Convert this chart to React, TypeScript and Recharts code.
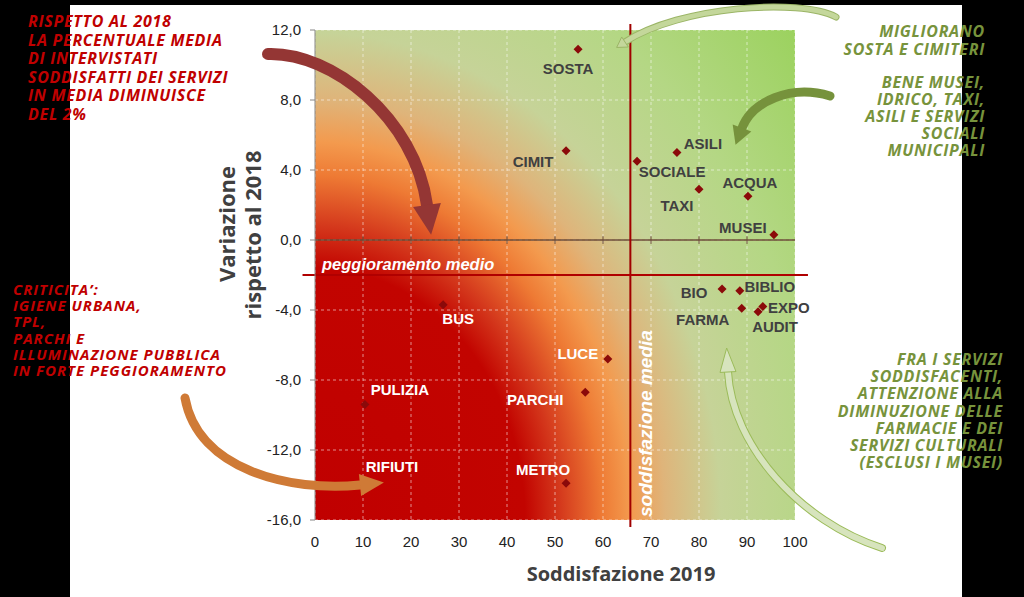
import { ScatterChart, Scatter, XAxis, YAxis, CartesianGrid, ReferenceLine } from 'recharts'

// services, 2019 satisfaction (%) and change vs 2018 (points)
const services = ['SOSTA', 'CIMIT', 'SOCIALE', 'ASILI', 'TAXI', 'ACQUA', 'MUSEI', 'BIO', 'BIBLIO', 'FARMA', 'AUDIT', 'EXPO', 'BUS', 'LUCE', 'PARCHI', 'PULIZIA', 'METRO']
const satisfaction2019 = [54.8, 52.3, 67.1, 75.4, 80.0, 90.2, 95.6, 84.8, 88.5, 88.9, 92.3, 93.3, 26.7, 61.0, 56.3, 10.4, 52.3]
const change2018 = [10.9, 5.1, 4.5, 5.0, 2.9, 2.5, 0.3, -2.8, -2.9, -3.9, -4.1, -3.8, -3.7, -6.8, -8.7, -9.4, -13.9]

const xTicks = [0, 10, 20, 30, 40, 50, 60, 70, 80, 90, 100]
const yTicks = [-16, -12, -8, -4, 0, 4, 8, 12]
const avgSatisfaction = 65.7
const avgChange = -2.0

const noteTop = ['RISPETTO AL 2018', 'LA PERCENTUALE MEDIA', 'DI INTERVISTATI', 'SODDISFATTI DEI SERVIZI', 'IN MEDIA DIMINUISCE', 'DEL 2%']
const noteLeft = ['CRITICITA\u2019:', 'IGIENE URBANA,', 'TPL,', 'PARCHI E', 'ILLUMINAZIONE PUBBLICA', 'IN FORTE PEGGIORAMENTO']
const noteGreen1 = ['MIGLIORANO', 'SOSTA E CIMITERI']
const noteGreen2 = ['BENE MUSEI,', 'IDRICO, TAXI,', 'ASILI E SERVIZI', 'SOCIALI', 'MUNICIPALI']
const noteGreen3 = ['FRA I SERVIZI', 'SODDISFACENTI,', 'ATTENZIONE ALLA', 'DIMINUZIONE DELLE', 'FARMACIE E DEI', 'SERVIZI CULTURALI', '(ESCLUSI I MUSEI)']

const data = services.map((name, i) => ({ name, x: satisfaction2019[i], y: change2018[i] }))

// label placement relative to the marker (px)
const labelOffset: Record<string, [number, number]> = {
  SOSTA: [-10, 19], CIMIT: [-33, 11], SOCIALE: [35, 10], ASILI: [26, -9], TAXI: [-22, 16],
  ACQUA: [2, -14], MUSEI: [-31, -7], BIO: [-28, 3], BIBLIO: [30, -4], FARMA: [-39, 11],
  EXPO: [26, 1], AUDIT: [17, 15], BUS: [15, 14], LUCE: [-30, -6], PARCHI: [-50, 7],
  PULIZIA: [35, -15], METRO: [-23, -14],
}
const whiteLabels = ['BUS', 'LUCE', 'PARCHI', 'PULIZIA', 'METRO']

const fmt = (v: number) => v.toFixed(1).replace('.', ',')

const PointShape = (props: any) => {
  const { cx, cy, payload } = props
  const off = labelOffset[payload.name] || [0, -12]
  const r = 4.5
  return (
    <g>
      <polygon points={`${cx},${cy - r} ${cx + r},${cy} ${cx},${cy + r} ${cx - r},${cy}`} fill="#8b0a0a" />
      <text
        x={cx + off[0]}
        y={cy + off[1]}
        textAnchor="middle"
        dominantBaseline="central"
        fontFamily="'Liberation Sans', Arial, sans-serif"
        fontWeight="bold"
        fontSize={15}
        fill={whiteLabels.includes(payload.name) ? '#ffffff' : '#404040'}
      >
        {payload.name}
      </text>
    </g>
  )
}

function Arrow({ pts, w, hl, hw, color, outline }: { pts: number[][]; w: number; hl: number; hw: number; color: string; outline?: string }) {
  const [p0, p1, p2, p3] = pts
  let dx = p3[0] - p2[0]
  let dy = p3[1] - p2[1]
  const len = Math.hypot(dx, dy)
  dx /= len
  dy /= len
  const nx = -dy
  const ny = dx
  const tip = [p3[0] + dx * hl, p3[1] + dy * hl]
  const head = `${p3[0] + (nx * hw) / 2},${p3[1] + (ny * hw) / 2} ${tip[0]},${tip[1]} ${p3[0] - (nx * hw) / 2},${p3[1] - (ny * hw) / 2}`
  const d = `M${p0} C${p1} ${p2} ${p3}`
  return (
    <g>
      {outline && <path d={d} fill="none" stroke={outline} strokeWidth={w + 2} strokeLinecap="round" />}
      <path d={d} fill="none" stroke={color} strokeWidth={w} strokeLinecap="round" />
      <polygon points={head} fill={color} stroke={outline || 'none'} strokeWidth={1} />
    </g>
  )
}

const noteFont = "'Open Sans', sans-serif"

function NoteBlock({ lines, x, y, lh, color, anchor, size = 16, spacing = 0.5 }: { lines: string[]; x: number; y: number; lh: number; color: string; anchor: 'start' | 'end'; size?: number; spacing?: number }) {
  return (
    <text fontFamily={noteFont} fontWeight="bold" fontStyle="italic" fontSize={size} letterSpacing={spacing} fill={color} textAnchor={anchor}>
      {lines.map((l, i) => (
        <tspan key={i} x={x} y={y + i * lh}>
          {l}
        </tspan>
      ))}
    </text>
  )
}

export default function App() {
  return (
    <div style={{ position: 'fixed', left: 0, top: 0, width: 1024, height: 597, background: '#ffffff', overflow: 'hidden' }}>
      <div style={{ position: 'absolute', left: 0, top: 0, width: 1024, height: 5, background: '#000' }} />
      <div style={{ position: 'absolute', left: 0, top: 0, width: 70, height: 597, background: '#000' }} />
      <div style={{ position: 'absolute', left: 962, top: 0, width: 62, height: 597, background: '#000' }} />

      <div style={{ position: 'absolute', left: 0, top: 0 }}>
        <ScatterChart width={1024} height={597} margin={{ top: 30, right: 229, bottom: 47, left: 255 }}>
          <defs>
            <radialGradient
              id="bgGrad"
              gradientUnits="userSpaceOnUse"
              cx={315}
              cy={520}
              r={700}
              gradientTransform="translate(315 520) scale(1 1.2) translate(-315 -520)"
            >
              <stop offset="0" stopColor="#c00000" />
              <stop offset="0.30" stopColor="#c20400" />
              <stop offset="0.35" stopColor="#d4381c" />
              <stop offset="0.41" stopColor="#ee7a34" />
              <stop offset="0.45" stopColor="#f39a4e" />
              <stop offset="0.50" stopColor="#dfb47a" />
              <stop offset="0.58" stopColor="#c6d398" />
              <stop offset="0.72" stopColor="#b4d784" />
              <stop offset="0.97" stopColor="#92d050" />
            </radialGradient>
          </defs>
          <CartesianGrid fill="url(#bgGrad)" fillOpacity={1} stroke="#ffffff" strokeOpacity={0.55} strokeDasharray="3 3" />
          <XAxis
            type="number"
            dataKey="x"
            domain={[0, 100]}
            ticks={xTicks}
            axisLine={false}
            tickLine={false}
            tickMargin={10}
            height={30}
            tick={{ fontFamily: "'Liberation Sans', Arial", fontSize: 15, fill: '#222' }}
          />
          <YAxis
            type="number"
            dataKey="y"
            domain={[-16, 12]}
            ticks={yTicks}
            tickFormatter={fmt}
            width={60}
            axisLine={{ stroke: '#868686' }}
            tickLine={{ stroke: '#868686' }}
            tickSize={5}
            tickMargin={9}
            tick={{ fontFamily: "'Liberation Sans', Arial", fontSize: 15, fill: '#222' }}
          />
          <ReferenceLine y={0} stroke="#6b4a36" strokeWidth={1.3} />
          {xTicks.slice(1, -1).map((t) => (
            <ReferenceLine key={t} segment={[{ x: t, y: 0.22 }, { x: t, y: -0.22 }]} stroke="#6b4a36" strokeWidth={1} />
          ))}
          <ReferenceLine
            segment={[{ x: avgSatisfaction, y: 12.35 }, { x: avgSatisfaction, y: -16.4 }]}
            stroke="#a00000"
            strokeWidth={2}
            ifOverflow="visible"
          />
          <ReferenceLine
            segment={[{ x: -2.6, y: avgChange }, { x: 102.7, y: avgChange }]}
            stroke="#b00000"
            strokeWidth={2}
            ifOverflow="visible"
          />
          <Scatter data={data} isAnimationActive={false} shape={PointShape} />
        </ScatterChart>
      </div>

      <svg width={1024} height={597} style={{ position: 'absolute', left: 0, top: 0, pointerEvents: 'none' }}>
        {/* in-plot notes */}
        <text x={322} y={270} fontFamily="'Liberation Sans', Arial" fontWeight="bold" fontStyle="italic" fontSize={16.5} fill="#ffffff">
          peggioramento  medio
        </text>
        <text
          x={652}
          y={517}
          transform="rotate(-90 652 517)"
          fontFamily="'Liberation Sans', Arial"
          fontWeight="bold"
          fontStyle="italic"
          fontSize={19}
          fill="#ffffff"
        >
          soddisfazione media
        </text>
        <text x={392} y={466} textAnchor="middle" dominantBaseline="central" fontFamily="'Liberation Sans', Arial" fontWeight="bold" fontSize={15} fill="#ffffff">
          RIFIUTI
        </text>

        {/* axis titles */}
        <text x={621} y={581} textAnchor="middle" fontFamily={noteFont} fontWeight="bold" fontSize={20} fill="#404040">
          Soddisfazione 2019
        </text>
        <text transform="translate(235 224) rotate(-90)" textAnchor="middle" fontFamily={noteFont} fontWeight="bold" fontSize={22} fill="#404040">
          Variazione
        </text>
        <text transform="translate(261 235) rotate(-90)" textAnchor="middle" fontFamily={noteFont} fontWeight="bold" fontSize={22} fill="#404040">
          rispetto al 2018
        </text>

        {/* arrows */}
        <Arrow pts={[[268, 54], [332, 52], [415, 118], [427, 205]]} w={12} hl={30} hw={28} color="#943634" />
        <Arrow pts={[[836, 17], [800, -2], [680, 6], [625, 42]]} w={5} hl={10} hw={12} color="#c4d79b" outline="#9bb566" />
        <Arrow pts={[[830, 96], [790, 84], [752, 102], [742, 128]]} w={9} hl={18} hw={20} color="#76923c" />
        <Arrow pts={[[882, 548], [800, 522], [732, 445], [728, 372]]} w={6} hl={24} hw={16} color="#d7e4bd" outline="#9bbb59" />
        <Arrow pts={[[185, 398], [198, 470], [290, 492], [360, 485]]} w={9} hl={24} hw={22} color="#cf7a36" />

        {/* side notes */}
        <NoteBlock lines={noteTop} x={28} y={27} lh={18.6} color="#c00000" anchor="start" size={16} spacing={0.7} />
        <NoteBlock lines={noteLeft} x={13} y={295} lh={16.2} color="#c00000" anchor="start" size={15} spacing={1} />
        <NoteBlock lines={noteGreen1} x={985} y={37} lh={18} color="#77933c" anchor="end" size={16} spacing={0.7} />
        <NoteBlock lines={noteGreen2} x={985} y={88} lh={17} color="#77933c" anchor="end" size={16} spacing={0.7} />
        <NoteBlock lines={noteGreen3} x={1003} y={365} lh={17.2} color="#77933c" anchor="end" size={16} spacing={0.7} />
      </svg>
    </div>
  )
}
